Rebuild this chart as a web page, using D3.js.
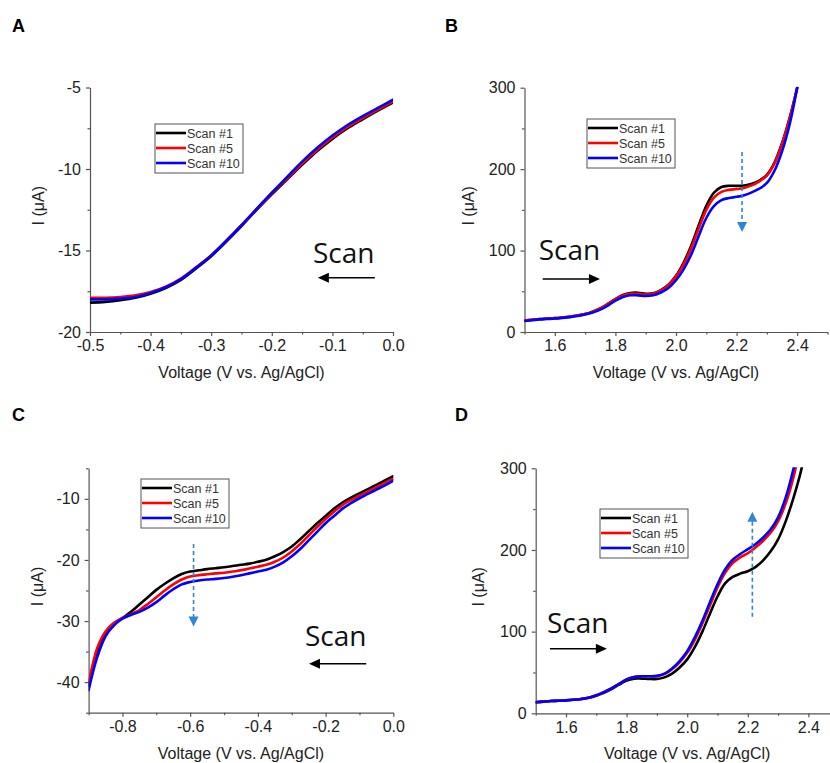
<!DOCTYPE html>
<html><head><meta charset="utf-8">
<script src="https://cdn.jsdelivr.net/npm/d3@7"></script>
<style>body{margin:0;background:#fff} svg{display:block}</style>
</head><body><svg id="c" width="830" height="763"></svg>
<script>
const seriesNames = ["Scan #1", "Scan #5", "Scan #10"];
const seriesColors = ["#000000", "#ff0000", "#0000ff"];

// Panel A
const voltA = [-0.5,-0.475,-0.45,-0.425,-0.4,-0.375,-0.35,-0.325,-0.3,-0.275,-0.25,-0.225,-0.2,-0.175,-0.15,-0.125,-0.1,-0.075,-0.05,-0.025,0];
const a1  = [-18.2,-18.15,-18.05,-17.9,-17.65,-17.3,-16.8,-16.1,-15.35,-14.45,-13.5,-12.5,-11.55,-10.65,-9.75,-8.9,-8.15,-7.5,-6.95,-6.42,-5.92];
const a5  = [-17.9,-17.9,-17.85,-17.75,-17.55,-17.22,-16.72,-16.03,-15.3,-14.4,-13.45,-12.47,-11.5,-10.58,-9.66,-8.82,-8.07,-7.42,-6.88,-6.36,-5.86];
const a10 = [-18.0,-18.0,-17.95,-17.85,-17.6,-17.25,-16.75,-16.05,-15.3,-14.4,-13.45,-12.45,-11.45,-10.5,-9.55,-8.7,-7.95,-7.3,-6.75,-6.25,-5.75];

// Panel B
const voltB = [1.5,1.525,1.55,1.575,1.6,1.625,1.65,1.675,1.7,1.725,1.75,1.775,1.8,1.825,1.85,1.875,1.9,1.925,1.95,1.975,2.0,2.025,2.05,2.075,2.1,2.125,2.15,2.175,2.2,2.225,2.25,2.275,2.3,2.325,2.35,2.375,2.4];
const b1  = [14,15,16,16.5,17,17.8,18.8,20.2,22,25,29,34.5,40.5,45.5,48,48.2,47,47.5,51.5,58,69,85,106,131,155,171,178,179.5,179.5,180,182,186,193,208,232,263,300];
const b5  = [14,15,16,16.5,17,17.8,18.8,20.2,22,25,29,34.5,40.5,45,47,46.8,46,47,51,57.5,68,83,103,127,150,165,172,174.5,175.5,177,180,185,192,207,231,262,300];
const b10 = [13.5,14.5,15.5,16,16.5,17.3,18.3,19.7,21.5,24,27.5,32.5,38.5,43,45.2,45,44.2,45.2,48.5,54,63.5,77,95,118,140,154.5,162,164.5,166,168,171.5,176,183,198,222,255,300];

// Panel C
const voltC = [-0.9,-0.875,-0.85,-0.825,-0.8,-0.775,-0.75,-0.725,-0.7,-0.675,-0.65,-0.625,-0.6,-0.575,-0.55,-0.525,-0.5,-0.475,-0.45,-0.425,-0.4,-0.375,-0.35,-0.325,-0.3,-0.275,-0.25,-0.225,-0.2,-0.175,-0.15,-0.125,-0.1,-0.075,-0.05,-0.025,0];
const c1  = [-40.5,-35.0,-32.0,-30.5,-29.5,-28.5,-27.3,-26.1,-24.9,-23.9,-23.0,-22.3,-21.9,-21.7,-21.5,-21.35,-21.2,-21.0,-20.8,-20.6,-20.3,-19.95,-19.4,-18.7,-17.8,-16.6,-15.3,-14.0,-12.8,-11.6,-10.6,-9.8,-9.1,-8.4,-7.7,-7.0,-6.3];
const c5  = [-40.3,-34.5,-31.7,-30.3,-29.5,-28.9,-28.2,-27.2,-26.1,-25.0,-24.0,-23.2,-22.7,-22.5,-22.35,-22.2,-22.1,-21.9,-21.7,-21.4,-21.1,-20.8,-20.3,-19.6,-18.6,-17.4,-16.0,-14.6,-13.3,-12.1,-11.0,-10.2,-9.5,-8.8,-8.1,-7.4,-6.7];
const c10 = [-41.3,-36.0,-32.5,-30.7,-29.6,-29.0,-28.5,-27.8,-26.9,-25.8,-24.8,-24.0,-23.6,-23.35,-23.2,-23.1,-22.95,-22.75,-22.5,-22.2,-21.9,-21.6,-21.1,-20.4,-19.4,-18.2,-16.8,-15.4,-14.0,-12.8,-11.6,-10.7,-9.9,-9.2,-8.5,-7.8,-7.0];

// Panel D
const voltD = voltB.slice();
const d1  = [13.5,14.3,15,15.3,15.8,16.5,17.5,19,21.5,25,29.5,35,40,42.5,42.5,42,42,44,48.5,56,66,81,100,122,143,159,167,171,174,179,187,198,213,235,263,296,340];
const d5  = [13.5,14.3,15,15.3,15.8,16.5,17.5,19,22,26,30.5,36,41.5,44.5,45.3,45.3,45.5,48,54,62.5,74,90,110,132,154,172,184,191,196,203,211,221,235,257,288,330,380];
const d10 = [13.5,14.3,15,15.3,15.8,16.5,17.5,19,22,26,30.5,36,41.5,44.5,45.3,45.3,45.8,48.5,55,64,76,93,113,136,158,176,188,195,201,207,215,225,240,264,298,340,390];

const ticksXA = [-0.5,-0.4,-0.3,-0.2,-0.1,0.0];
const minorXA = [-0.45,-0.35,-0.25,-0.15,-0.05];
const ticksYA = [-20,-15,-10,-5];
const minorYA = [-17.5,-12.5,-7.5];
const ticksXB = [1.6,1.8,2.0,2.2,2.4];
const minorXB = [1.5,1.7,1.9,2.1,2.3,2.5];
const ticksYB = [0,100,200,300];
const minorYB = [50,150,250];
const ticksXC = [-0.8,-0.6,-0.4,-0.2,0.0];
const minorXC = [-0.9,-0.7,-0.5,-0.3,-0.1];
const ticksYC = [-40,-30,-20,-10];
const minorYC = [-45,-35,-25,-15,-5];

const FONT = "Arial, 'Liberation Sans', sans-serif";
const svg = d3.select("#c");
const defs = svg.append("defs");

const panels = [
  {label:"A", labelPos:[12,32], left:90, right:393, top:87.5, bottom:332, xDomain:[-0.5,0], yDomain:[-20,-5],
   xTicks:ticksXA, xMinor:minorXA, yTicks:ticksYA, yMinor:minorYA, volt:voltA, series:[a1,a5,a10],
   xTitleY:378, yTitleX:38, legend:[155,124],
   scanText:[-0.132,-15.75], scanArrow:[-0.03,-0.124,-16.67], dash:null},
  {label:"B", labelPos:[445,32], left:524.5, right:827.5, top:87.7, bottom:332, xDomain:[1.5,2.5], yDomain:[0,300],
   xTicks:ticksXB, xMinor:minorXB, yTicks:ticksYB, yMinor:minorYB, volt:voltB, series:[b1,b5,b10],
   xTitleY:378, yTitleX:468, legend:[587,119],
   scanText:[1.547,88.4], scanArrow:[1.56,1.749,65], dash:[2.218,221,122.8]},
  {label:"C", labelPos:[12,421], left:88.6, right:393.3, top:468.3, bottom:712.7, xDomain:[-0.9,0], yDomain:[-45,-5],
   xTicks:ticksXC, xMinor:minorXC, yTicks:ticksYC, yMinor:minorYC, volt:voltC, series:[c1,c5,c10],
   xTitleY:759, yTitleX:37, legend:[141,479],
   scanText:[-0.261,-34.1], scanArrow:[-0.08,-0.249,-37.0], dash:[-0.59,-17.4,-30.9]},
  {label:"D", labelPos:[455,421], left:535.7, right:838.7, top:468.3, bottom:713.3, xDomain:[1.5,2.5], yDomain:[0,300],
   xTicks:ticksXB, xMinor:minorXB, yTicks:ticksYB, yMinor:minorYB, volt:voltD, series:[d1,d5,d10],
   xTitleY:759, yTitleX:478, legend:[600,509],
   scanText:[1.537,98.7], scanArrow:[1.547,1.735,79.1], dash:[2.215,118.3,246.8]}
];

function fmtX(v){ return v.toFixed(1); }
function fmtY(v){ return String(v); }

panels.forEach(p => {
  const g = svg.append("g");
  const x = d3.scaleLinear().domain(p.xDomain).range([p.left, p.right]);
  const y = d3.scaleLinear().domain(p.yDomain).range([p.bottom, p.top]);

  defs.append("clipPath").attr("id","clip"+p.label).append("rect")
    .attr("x",p.left).attr("y",p.top-1).attr("width",p.right-p.left).attr("height",p.bottom-p.top+1);

  // minor ticks
  g.append("g").attr("transform",`translate(0,${p.bottom})`)
    .call(d3.axisBottom(x).tickValues(p.xMinor).tickSize(2.5).tickFormat(""))
    .call(s=>s.select(".domain").remove());
  g.append("g").attr("transform",`translate(${p.left},0)`)
    .call(d3.axisLeft(y).tickValues(p.yMinor).tickSize(2.5).tickFormat(""))
    .call(s=>s.select(".domain").remove());
  // major axes
  const xa = g.append("g").attr("transform",`translate(0,${p.bottom})`)
    .call(d3.axisBottom(x).tickValues(p.xTicks).tickSize(4).tickSizeOuter(0).tickPadding(4).tickFormat(fmtX));
  const ya = g.append("g").attr("transform",`translate(${p.left},0)`)
    .call(d3.axisLeft(y).tickValues(p.yTicks).tickSize(4).tickSizeOuter(0).tickPadding(5).tickFormat(fmtY));
  [xa, ya].forEach(a => {
    a.selectAll("text").attr("font-family",FONT).attr("font-size",16).attr("fill","#222");
  });
  g.selectAll(".domain, .tick line").attr("stroke","#555").attr("stroke-width",1.2);

  // curves
  const line = d3.line().x(d=>x(d[0])).y(d=>y(d[1])).curve(d3.curveCatmullRom.alpha(0.5));
  const cg = g.append("g").attr("clip-path",`url(#clip${p.label})`);
  p.series.forEach((s,i) => {
    cg.append("path").datum(p.volt.map((v,k)=>[v,s[k]]))
      .attr("d",line).attr("fill","none").attr("stroke",seriesColors[i])
      .attr("stroke-width",2.6).attr("stroke-linejoin","round").attr("stroke-linecap","round");
  });

  // panel label
  svg.append("text").attr("x",p.labelPos[0]).attr("y",p.labelPos[1]).text(p.label)
    .attr("font-family",FONT).attr("font-weight","bold").attr("font-size",18).attr("fill","#000");

  // axis titles
  svg.append("text").attr("x",(p.left+p.right)/2).attr("y",p.xTitleY).attr("text-anchor","middle")
    .attr("font-family",FONT).attr("font-size",16).attr("fill","#222").text("Voltage (V vs. Ag/AgCl)");
  const yMid = (p.top+p.bottom)/2 - 4;
  svg.append("text").attr("transform",`translate(${p.yTitleX},${yMid}) rotate(-90)`).attr("dy","0.35em")
    .attr("text-anchor","middle").attr("font-family",FONT).attr("font-size",16).attr("fill","#222").text("I (μA)");

  // legend
  const lg = svg.append("g").attr("transform",`translate(${p.legend[0]},${p.legend[1]})`);
  lg.append("rect").attr("width",88).attr("height",49).attr("fill","#fff").attr("stroke","#555").attr("stroke-width",1);
  seriesNames.forEach((n,i) => {
    const yy = 9 + i*15;
    lg.append("line").attr("x1",1).attr("x2",31).attr("y1",yy).attr("y2",yy)
      .attr("stroke",seriesColors[i]).attr("stroke-width",2.6);
    lg.append("text").attr("x",32).attr("y",yy).attr("dy","0.36em").text(n)
      .attr("font-family",FONT).attr("font-size",12.5).attr("fill","#333");
  });

  // Scan annotation
  svg.append("text").attr("x",x(p.scanText[0])).attr("y",y(p.scanText[1])).text("Scan")
    .attr("font-family","'Open Sans', sans-serif").attr("font-size",28).attr("fill","#111");
  const ax0 = x(p.scanArrow[0]), ax1 = x(p.scanArrow[1]), ay = y(p.scanArrow[2]);
  const dir = Math.sign(ax1 - ax0);
  svg.append("line").attr("x1",ax0).attr("x2",ax1 - dir*8).attr("y1",ay).attr("y2",ay)
    .attr("stroke","#000").attr("stroke-width",1.6);
  svg.append("path").attr("d",`M${ax1},${ay} L${ax1-dir*11},${ay-5} L${ax1-dir*11},${ay+5} Z`).attr("fill","#000");

  // dashed change arrow
  if (p.dash) {
    const dx = x(p.dash[0]), dy0 = y(p.dash[1]), dy1 = y(p.dash[2]);
    const vd = Math.sign(dy1 - dy0);
    svg.append("line").attr("x1",dx).attr("x2",dx).attr("y1",dy0).attr("y2",dy1 - vd*9)
      .attr("stroke","#2f86d6").attr("stroke-width",1.6).attr("stroke-dasharray","4,3");
    svg.append("path").attr("d",`M${dx},${dy1} L${dx-5},${dy1-vd*10} L${dx+5},${dy1-vd*10} Z`).attr("fill","#2f86d6");
  }
});
</script></body></html>
